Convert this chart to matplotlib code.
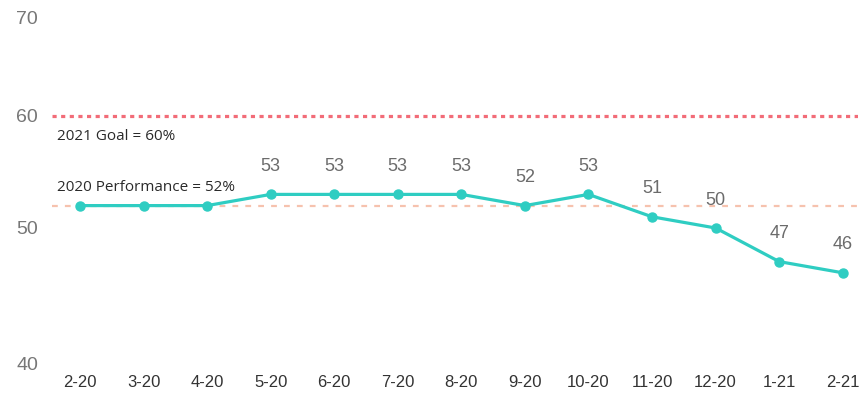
import matplotlib
matplotlib.use("Agg")
import matplotlib.pyplot as plt
import matplotlib.transforms as mtransforms

# Datos mensuales
meses = ["2-20", "3-20", "4-20", "5-20", "6-20", "7-20", "8-20",
         "9-20", "10-20", "11-20", "12-20", "1-21", "2-21"]
valores = [52, 52, 52, 53, 53, 53, 53, 52, 53, 51, 50, 47, 46]
# los tres primeros meses van sin etiqueta
mostrar_etiqueta = [False, False, False] + [True] * 10
meta_2021 = 60
desempeno_2020 = 52
ticks_y = [40, 50, 60, 70]

plt.rcParams['font.family'] = ['Liberation Sans', 'DejaVu Sans']

fig = plt.figure(figsize=(8.6, 3.93), dpi=100)
ax = fig.add_axes([52 / 860, 1 - 340 / 393, (858 - 52) / 860, (340 - 4) / 393])

x = list(range(len(meses)))
ax.axhline(meta_2021, color='#F26C78', lw=2.3, ls=(0, (1.3, 1.4)), zorder=1)
ax.axhline(desempeno_2020, color='#F6C2AE', lw=1.6, ls=(0, (2.6, 3.2)), zorder=1)
ax.plot(x, valores, color='#2FCDC2', lw=2.3, marker='o', markersize=6.5, zorder=3)

for xi, v, mostrar in zip(x, valores, mostrar_etiqueta):
    if mostrar:
        ax.annotate(str(v), (xi, v), xytext=(0, 14), textcoords='offset points',
                    ha='center', va='bottom', fontsize=13, color='#6b6b6b')

trans = mtransforms.blended_transform_factory(ax.transAxes, ax.transData)
ax.text(0.006, 58.2, f"2021 Goal = {meta_2021}%", transform=trans, fontsize=11,
        color='#2a2a2a', va='center', family=['Open Sans', 'DejaVu Sans'])
ax.text(0.006, 53.6, f"2020 Performance = {desempeno_2020}%", transform=trans,
        fontsize=11, color='#2a2a2a', va='center', family=['Open Sans', 'DejaVu Sans'])

ax.set_xlim(-0.44, 12.24)
ax.set_ylim(40, 70)
ax.set_xticks(x)
ax.set_xticklabels(meses, fontsize=12, color='#333333')
ax.set_yticks(ticks_y)
ax.set_yticklabels([str(t) for t in ticks_y], fontsize=14, color='#777777')
ax.tick_params(axis='both', length=0)
ax.tick_params(axis='x', pad=25)
ax.tick_params(axis='y', pad=10)

# ajuste fino de las etiquetas extremas del eje y
for lbl in ax.get_yticklabels():
    if lbl.get_text() == "70":
        lbl.set_transform(lbl.get_transform() + mtransforms.ScaledTranslation(0, -10 / 72, fig.dpi_scale_trans))
    elif lbl.get_text() == "40":
        lbl.set_transform(lbl.get_transform() + mtransforms.ScaledTranslation(0, -17 / 72, fig.dpi_scale_trans))

for s in ax.spines.values():
    s.set_visible(False)

fig.savefig("out.png", dpi=100)
